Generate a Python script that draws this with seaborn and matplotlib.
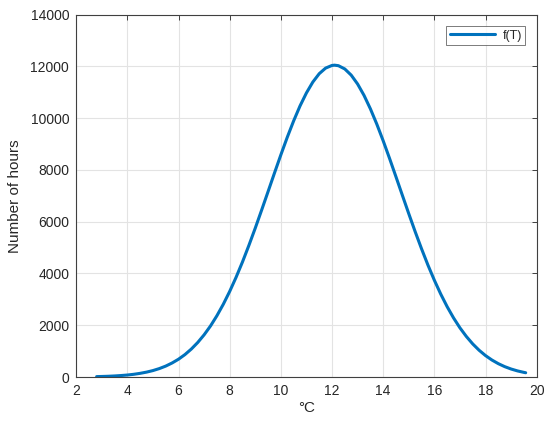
import matplotlib
matplotlib.use("Agg")
import matplotlib.pyplot as plt
import seaborn as sns
import pandas as pd

# temperature (°C) and number of hours
temperature = [2.8, 3.0, 3.25, 3.5, 3.75, 4.0, 4.25, 4.5, 4.75, 5.0, 5.25, 5.5, 5.75,
               6.0, 6.25, 6.5, 6.75, 7.0, 7.25, 7.5, 7.75, 8.0, 8.25, 8.5, 8.75,
               9.0, 9.25, 9.5, 9.75, 10.0, 10.25, 10.5, 10.75, 11.0, 11.25, 11.5, 11.75,
               12.0, 12.1, 12.25, 12.5, 12.75, 13.0, 13.25, 13.5, 13.75, 14.0, 14.25,
               14.5, 14.75, 15.0, 15.25, 15.5, 15.75, 16.0, 16.25, 16.5, 16.75, 17.0,
               17.25, 17.5, 17.75, 18.0, 18.25, 18.5, 18.75, 19.0, 19.25, 19.5, 19.57]
hours = [16, 21, 29, 41, 57, 77, 105, 142, 189, 249, 326, 422, 543,
         688, 866, 1080, 1333, 1630, 1972, 2367, 2811, 3307, 3853, 4446, 5084,
         5754, 6453, 7164, 7880, 8584, 9262, 9897, 10476, 10978, 11398, 11721, 11937,
         12040, 12050, 12030, 11903, 11665, 11322, 10885, 10363, 9773, 9128, 8444,
         7736, 7021, 6311, 5617, 4953, 4324, 3740, 3204, 2718, 2284, 1900,
         1567, 1279, 1034, 828, 657, 516, 401, 309, 236, 179, 165]
series_name = "f(T)"
x_ticks = [2, 4, 6, 8, 10, 12, 14, 16, 18, 20]
y_ticks = [0, 2000, 4000, 6000, 8000, 10000, 12000, 14000]

sns.set_style("white")
plt.rcParams["font.family"] = ["Liberation Sans", "DejaVu Sans"]

df = pd.DataFrame({"T": temperature, "hours": hours, "series": series_name})

fig = plt.figure(figsize=(5.5, 4.25), dpi=100)
ax = fig.add_axes([0.1385, 0.1129, 0.8373, 0.8525])

sns.lineplot(data=df, x="T", y="hours", hue="series", palette=["#0072BD"],
             linewidth=2.2, sort=False, ax=ax)

ax.set_xlim(2, 20)
ax.set_ylim(0, 14000)
ax.set_xticks(x_ticks)
ax.set_yticks(y_ticks)
ax.grid(True, color="#e3e3e3", linewidth=0.8)
ax.set_axisbelow(True)
for s in ax.spines.values():
    s.set_color("#404040")
    s.set_linewidth(0.8)
ax.tick_params(direction="in", length=3.5, width=0.6, colors="#262626",
               labelsize=10, top=True, right=True, pad=5)
ax.set_xlabel("°C", fontsize=11, color="#262626", labelpad=2)
ax.set_ylabel("Number of hours", fontsize=11, color="#262626", labelpad=6)

leg = ax.legend(loc="upper right", fontsize=9, frameon=True, fancybox=False,
                handlelength=3.6, borderpad=0.3, handletextpad=0.6,
                borderaxespad=0.9)
leg.get_frame().set_edgecolor("#404040")
leg.get_frame().set_linewidth(0.6)
for line in leg.get_lines():
    line.set_linewidth(2.2)

fig.savefig("out.png", dpi=100)
